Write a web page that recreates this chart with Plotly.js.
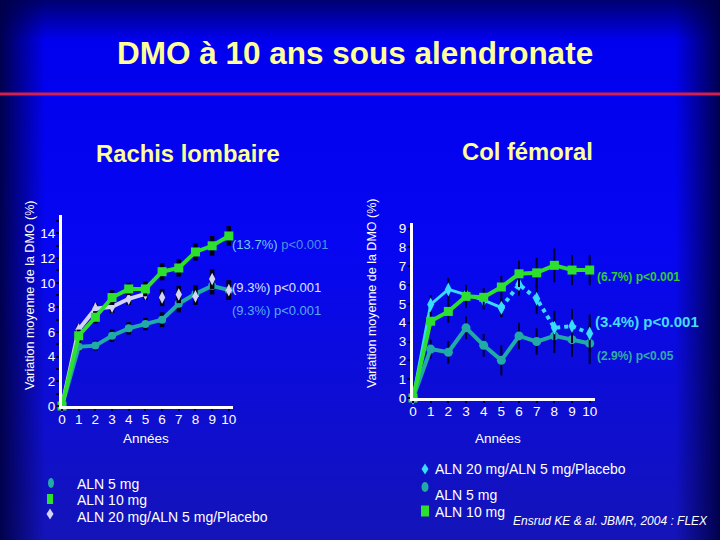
<!DOCTYPE html>
<html>
<head>
<meta charset="utf-8">
<script src="https://cdn.plot.ly/plotly-3.0.1.min.js"></script>
<style>
html,body{margin:0;padding:0;}
#chart{width:720px;height:540px;
background:
 linear-gradient(to right, rgba(0,0,70,0.95) 0px, rgba(0,0,70,0) 45px, rgba(0,0,70,0) 675px, rgba(0,0,70,0.95) 720px),
 linear-gradient(to bottom, #000070 0px, #0000ee 40px, #0606f2 250px, #1414b8 540px);}
</style>
</head>
<body>
<div id="chart"></div>
<script>
// ---- data ----
const years = [0,1,2,3,4,5,6,7,8,9,10];
const xTickLabels = ['0','1','2','3','4','5','6','7','8','9','10'];

// Rachis lombaire (lumbar spine)
const spine10 = [0,5.7,7.2,8.8,9.5,9.5,10.9,11.2,12.5,13.0,13.8];
const spine10Err = [0,0.5,0.5,0.6,0.5,0.6,0.7,0.7,0.7,0.8,0.8];
const spine5 = [0,4.8,4.9,5.7,6.3,6.65,7.0,8.3,9.1,9.75,9.4];
const spine5Err = [0,0.4,0.4,0.5,0.5,0.5,0.6,0.7,0.7,0.7,0.8];
const spine20 = [0,6.2,7.9,8.05,8.7,9.1,8.8,9.05,8.9,10.3,9.4];
const spine20Err = [0,0.4,0.4,0.5,0.5,0.5,0.7,0.7,0.7,0.8,0.8];

// Col fémoral (femoral neck)
const hip10 = [0,4.08,4.6,5.4,5.35,5.9,6.6,6.65,7.05,6.8,6.8];
const hip10Err = [0,0.5,0.6,0.6,0.5,0.6,0.7,0.8,0.9,0.8,0.8];
const hip20 = [0,4.97,5.77,5.47,5.2,4.8,6.04,5.28,3.73,3.82,3.43];
const hip20Err = [0,0.5,0.6,0.5,0.5,0.5,0.6,0.8,0.9,0.9,1.0];
const hip5 = [0,2.6,2.43,3.73,2.8,2.0,3.3,3.0,3.3,3.1,2.9];
const hip5Err = [0,0.5,0.6,0.6,0.6,0.8,0.7,0.7,0.9,0.9,1.1];

const spineYTicks = [0,2,4,6,8,10,12,14];
const hipYTicks = [0,1,2,3,4,5,6,7,8,9];

// ---- styles ----
const GREEN = '#2ee02e', TEAL = '#22aaa6', LAV = '#d4d4f8', CYAN = '#38dcff';
const W = 720, H = 540;
const px = x => x / W, py = y => 1 - y / H;

function err(arr, color, thick){ return {type:'data', array:arr, visible:true, color:color, thickness:thick, width:0}; }

function tr(xa, ya, x, y, e, color, symbol, size, lw, dash, mode, ecol, eth){
  return {x:x, y:y, xaxis:xa, yaxis:ya, type:'scatter', mode:mode,
    line:{color:color, width:lw, dash:dash||'solid'},
    marker:{color:color, symbol:symbol, size:size},
    error_y: err(e, ecol, eth), cliponaxis:false, showlegend:false, hoverinfo:'skip'};
}
const LE = '#000018', RE = '#000030';
const data = [
  // left chart
  tr('x','y', years, spine5, spine5Err, TEAL, 'circle', 8, 4, 'solid', 'lines+markers', LE, 4.5),
  tr('x','y', years.slice(0,6), spine20.slice(0,6), spine20Err.slice(0,6), LAV, 'diamond-tall', 9, 4, 'solid', 'lines+markers', LE, 4.5),
  tr('x','y', years.slice(6), spine20.slice(6), spine20Err.slice(6), LAV, 'diamond-tall', 9, 4, 'solid', 'markers', LE, 4.5),
  tr('x','y', years, spine10, spine10Err, GREEN, 'square', 9, 4, 'solid', 'lines+markers', LE, 4.5),
  // right chart
  tr('x2','y2', years, hip5, hip5Err, TEAL, 'circle', 9, 4, 'solid', 'lines+markers', RE, 2),
  tr('x2','y2', years.slice(0,6), hip20.slice(0,6), hip20Err.slice(0,6), CYAN, 'diamond-tall', 10, 3, 'solid', 'lines+markers', RE, 2),
  tr('x2','y2', years.slice(5), hip20.slice(5), hip20Err.slice(5), CYAN, 'diamond-tall', 10, 4, 'dot', 'lines+markers', RE, 2),
  tr('x2','y2', years, hip10, hip10Err, GREEN, 'square', 9, 4, 'solid', 'lines+markers', RE, 2)
];

const tickFont = {family:'Liberation Sans, Arial, sans-serif', size:13.5, color:'#ffffff'};
function xax(dom, anchor){
  return {domain:dom, range:[0,10.3], anchor:anchor, tickvals:years, ticktext:xTickLabels,
    showline:true, linecolor:'#ffffff', linewidth:3, showgrid:false, zeroline:false,
    ticks:'outside', ticklen:2, tickcolor:'#000030', tickwidth:2, tickfont:tickFont, ticklabelstandoff:-3, fixedrange:true};
}
function yax(dom, anchor, rng, tv){
  return {domain:dom, range:rng, anchor:anchor, tickvals:tv,
    showline:true, linecolor:'#ffffff', linewidth:3, showgrid:false, zeroline:false,
    ticks:'outside', ticklen:3, tickcolor:'#000030', tickwidth:2, tickfont:tickFont, ticklabelstandoff:-2,
    minor:{dtick:1, ticks:'outside', ticklen:3, tickcolor:'#000030', tickwidth:2, showgrid:false}, fixedrange:true};
}

const F = 'Liberation Sans, Arial, sans-serif';
function ann(x, y, text, size, color, opts){
  return Object.assign({xref:'paper', yref:'paper', x:px(x), y:py(y), text:text, showarrow:false,
    xanchor:'left', yanchor:'middle', font:{family:F, size:size, color:color}}, opts||{});
}
const YEL = '#ffff99';
const annotations = [
  ann(355, 53, '<b>DMO à 10 ans sous alendronate</b>', 31.5, YEL, {xanchor:'center'}),
  ann(188, 153, '<b>Rachis lombaire</b>', 23.8, YEL, {xanchor:'center'}),
  ann(527, 151, '<b>Col fémoral</b>', 23.8, YEL, {xanchor:'center'}),
  ann(30, 296, 'Variation moyenne de la DMO (%)', 12.5, '#ffffff', {xanchor:'center', textangle:-90}),
  ann(372, 294, 'Variation moyenne de la DMO (%)', 12.5, '#ffffff', {xanchor:'center', textangle:-90}),
  ann(146, 438, 'Années', 13.5, '#ffffff', {xanchor:'center'}),
  ann(498, 438, 'Années', 13.5, '#ffffff', {xanchor:'center'}),
  // left end labels
  ann(230, 244, '<span style="color:#70c8f0">(13.7%)</span> <span style="color:#4f8ee4">p&lt;0.001</span>', 13, '#70c8f0'),
  ann(230, 287, '(9.3%) p&lt;0.001', 13, '#dce2ff'),
  ann(230, 310, '(9.3%) p&lt;0.001', 13, '#58aaee'),
  // right end labels
  ann(595, 277, '<b>(6.7%) p&lt;0.001</b>', 12, '#33cc33'),
  ann(593, 321, '<b>(3.4%) p&lt;0.001</b>', 15, '#44ddff'),
  ann(595, 356, '<b>(2.9%) p&lt;0.05</b>', 12, '#33aaaa'),
  // left legend
  ann(75, 484, 'ALN 5 mg', 14, '#ffffff'),
  ann(75, 500, 'ALN 10 mg', 14, '#ffffff'),
  ann(75, 517, 'ALN 20 mg/ALN 5 mg/Placebo', 14, '#ffffff'),
  // right legend
  ann(433, 469, 'ALN 20 mg/ALN 5 mg/Placebo', 14, '#ffffff'),
  ann(433, 495, 'ALN 5 mg', 14, '#ffffff'),
  ann(433, 512, 'ALN 10 mg', 14, '#ffffff'),
  ann(511, 521, '<i>Ensrud KE &amp; al. JBMR, 2004 : FLEX</i>', 12, '#ffffff')
];

function rect(cx, cy, w, h, color){ return {type:'rect', xref:'paper', yref:'paper', x0:px(cx-w/2), x1:px(cx+w/2), y0:py(cy+h/2), y1:py(cy-h/2), fillcolor:color, line:{width:0}}; }
function ell(cx, cy, w, h, color){ return {type:'circle', xref:'paper', yref:'paper', x0:px(cx-w/2), x1:px(cx+w/2), y0:py(cy+h/2), y1:py(cy-h/2), fillcolor:color, line:{width:0}}; }
function dia(cx, cy, w, h, color){
  const p = `M ${px(cx)} ${py(cy-h/2)} L ${px(cx+w/2)} ${py(cy)} L ${px(cx)} ${py(cy+h/2)} L ${px(cx-w/2)} ${py(cy)} Z`;
  return {type:'path', xref:'paper', yref:'paper', path:p, fillcolor:color, line:{width:0}};
}
const shapes = [
  {type:'line', xref:'paper', yref:'paper', x0:0, x1:1, y0:py(94), y1:py(94), line:{color:'#d4204c', width:3}},
  ell(51, 483, 6, 10, TEAL), rect(50, 499, 6, 10, GREEN), dia(50, 514, 7, 11, LAV),
  dia(425, 469, 7, 11, CYAN), ell(425, 487, 7, 10, TEAL), rect(425, 511, 8, 11, GREEN)
];

const layout = {
  width:W, height:H, margin:{l:0, r:0, t:0, b:0},
  paper_bgcolor:'rgba(0,0,0,0)', plot_bgcolor:'rgba(0,0,0,0)',
  showlegend:false, font:{family:F, color:'#ffffff'},
  xaxis: Object.assign(xax([px(62), px(233)], 'y'), {range:[0,10.25]}),
  yaxis: yax([1-406/H, 1-215/H], 'x', [0,15.5], spineYTicks),
  xaxis2: xax([px(413), px(595)], 'y2'),
  yaxis2: yax([1-398/H, 1-223/H], 'x2', [0,9.3], hipYTicks),
  annotations: annotations, shapes: shapes
};
Plotly.newPlot('chart', data, layout, {displayModeBar:false, staticPlot:true});
</script>
</body>
</html>
